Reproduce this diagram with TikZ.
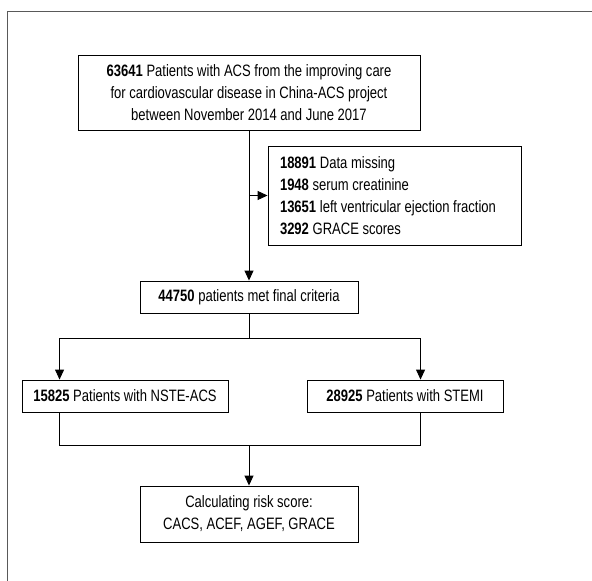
\documentclass[tikz,border=0pt]{standalone}
\usepackage{fontspec}
\setmainfont{Liberation Sans}[FakeStretch=0.79]
\usetikzlibrary{arrows.meta,calc}
\begin{document}
\begin{tikzpicture}[x=1pt,y=-1pt,
  box/.style={draw, line width=0.9pt, align=center, inner sep=0pt, font=\fontsize{16.5}{22}\selectfont},
  arr/.style={line width=0.9pt, -{Triangle[width=9pt,length=10pt]}},
  ln/.style={line width=0.9pt}]
\useasboundingbox (0,0) rectangle (592,581);
\draw[line width=1.2pt, black!65] (7.5,581) -- (7.5,11.5) -- (592,11.5);
\node[box, minimum width=342pt, minimum height=75pt] (top) at (249,92.5)
  {\textbf{63641} Patients with ACS from the improving care\\for cardiovascular disease in China-ACS project\\between November 2014 and June 2017};
\node[box, align=flush left, text width=229pt, inner xsep=12pt, minimum height=99pt] (side) at (394.5,195.5)
  {\textbf{18891} Data missing\\\textbf{1948} serum creatinine\\\textbf{13651} left ventricular ejection fraction\\\textbf{3292} GRACE scores};
\node[box, minimum width=218pt, minimum height=32pt] (final) at (249,297)
  {\textbf{44750} patients met final criteria};
\node[box, minimum width=206pt, minimum height=32pt] (nste) at (125,396)
  {\textbf{15825} Patients with NSTE-ACS};
\node[box, minimum width=196pt, minimum height=32pt] (stemi) at (405,396)
  {\textbf{28925} Patients with STEMI};
\node[box, minimum width=218pt, minimum height=56pt] (calc) at (249,514)
  {Calculating risk score:\\CACS, ACEF, AGEF, GRACE};
\coordinate (nl) at ([xshift=38pt]nste.north west);
\coordinate (nr) at ([xshift=114pt]stemi.north west);
\coordinate (sl) at ([xshift=38pt]nste.south west);
\coordinate (sr) at ([xshift=114pt]stemi.south west);
\coordinate (split) at ($(final.south)+(0,25)$);
\coordinate (merge) at ($(sl)+(0,33)$);
\draw[arr] (top.south) -- (final.north);
\draw[arr] (top.south |- side.west) -- (side.west);
\draw[ln] (final.south) -- (split);
\draw[arr] (split) -| (nl);
\draw[arr] (split) -| (nr);
\draw[ln] (sl) |- (merge) -| (sr);
\draw[arr] (calc.north |- merge) -- (calc.north);
\end{tikzpicture}
\end{document}
